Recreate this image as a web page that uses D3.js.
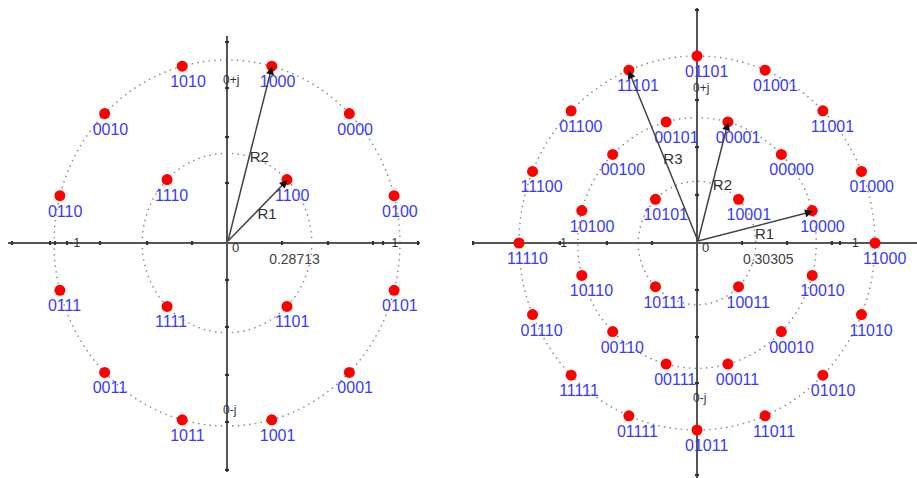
<!DOCTYPE html>
<html>
<head>
<meta charset="utf-8">
<script src="https://cdn.jsdelivr.net/npm/d3@7"></script>
<style>
html,body{margin:0;padding:0;background:#fff;}
svg{display:block;font-family:"Liberation Sans",Arial,sans-serif;}
</style>
</head>
<body>
<svg id="chart" width="917" height="478"></svg>
<script>
// ---------- 16APSK (left) ----------
const apsk16Labels = ["0100","0000","1000","1010","0010","0110","0111","0011","1011","1001","0001","0101",
                      "1100","1110","1111","1101"];
const apsk16Angles = [15,45,75,105,135,165,195,225,255,285,315,345, 45,135,225,315];
const apsk16Radius = [1,1,1,1,1,1,1,1,1,1,1,1, 0.49,0.49,0.49,0.49];
const apsk16Rings = [0.49, 1];
const apsk16Vectors = ["R1","R2"];
const apsk16VecRadius = [0.49, 1];
const apsk16VecAngle = [45, 75];
const apsk16Ratio = "0.28713";
const apsk16XTicks = [-1.243,-1.023,-0.994,-0.925,-0.734,-0.462,-0.202,0.318,0.584,0.844,0.902,1.104];
const apsk16YTicks = [1.098,0.847,0.579,0.328,-0.202,-0.459,-0.721,-0.978,-1.240];

// ---------- 32APSK (right) ----------
const apsk32Labels = ["11000","01000","11001","01001","01101","11101","01100","11100",
                      "11110","01110","11111","01111","01011","11011","01010","11010",
                      "10000","00000","00001","00101","00100","10100","10110","00110",
                      "00111","00011","00010","10010",
                      "10001","10101","10111","10011"];
const apsk32Angles = [0,22.5,45,67.5,90,112.5,135,157.5,180,202.5,225,247.5,270,292.5,315,337.5,
                      15,45,75,105,135,165,195,225,255,285,315,345,
                      45,135,225,315];
const apsk32Radius = [1,1,1,1,1,1,1,1,1,1,1,1,1,1,1,1,
                      0.67,0.67,0.67,0.67,0.67,0.67,0.67,0.67,0.67,0.67,0.67,0.67,
                      0.33,0.33,0.33,0.33];
const apsk32Rings = [0.33, 0.67, 1];
const apsk32Vectors = ["R1","R2","R3"];
const apsk32VecRadius = [0.67, 0.67, 1];
const apsk32VecAngle = [15, 75, 112.5];
const apsk32Ratio = "0.30305";
const apsk32XTicks = [-1.258,-0.770,-0.506,-0.253,0.253,0.506,0.758,0.803];
const apsk32YTicks = [1.246,1.021,0.765,0.513,0.257,-0.251,-0.503,-0.749,-1.0,-1.241];

const svg = d3.select("#chart");
const defs = svg.append("defs");
defs.append("marker").attr("id","arr").attr("viewBox","0 0 10 10")
  .attr("refX",9).attr("refY",5).attr("markerWidth",11).attr("markerHeight",8)
  .attr("markerUnits","userSpaceOnUse").attr("orient","auto")
  .append("path").attr("d","M0,0 L10,5 L0,10 Z").attr("fill","#111");

function drawPanel(cfg){
  const x = d3.scaleLinear().domain([-1,1]).range([cfg.cx - cfg.kx, cfg.cx + cfg.kx]);
  const y = d3.scaleLinear().domain([-1,1]).range([cfg.cy + cfg.ky, cfg.cy - cfg.ky]);
  const g = svg.append("g");
  const rad = a => a*Math.PI/180;

  // rings
  g.selectAll("ellipse.ring").data(cfg.rings).join("ellipse")
    .attr("cx", x(0)).attr("cy", y(0))
    .attr("rx", d => x(d) - x(0)).attr("ry", d => y(0) - y(d))
    .attr("fill","none").attr("stroke","#8a8a8a").attr("stroke-width",1.6)
    .attr("stroke-linecap","round").attr("stroke-dasharray","0.1 5.6");

  // axes
  g.append("line").attr("x1", x(cfg.xExt[0])).attr("x2", x(cfg.xExt[1]))
    .attr("y1", y(0)).attr("y2", y(0)).attr("stroke","#555").attr("stroke-width",2);
  g.append("line").attr("x1", x(0)).attr("x2", x(0))
    .attr("y1", y(cfg.yExt[0])).attr("y2", y(cfg.yExt[1])).attr("stroke","#555").attr("stroke-width",2);
  g.selectAll("line.xt").data(cfg.xTicks).join("line")
    .attr("x1", d => x(d)).attr("x2", d => x(d))
    .attr("y1", y(0)-2).attr("y2", y(0)+2).attr("stroke","#333").attr("stroke-width",2.2);
  g.selectAll("line.yt").data(cfg.yTicks).join("line")
    .attr("y1", d => y(d)).attr("y2", d => y(d))
    .attr("x1", x(0)-2).attr("x2", x(0)+2).attr("stroke","#333").attr("stroke-width",2.2);

  // axis texts
  const small = (t, px, py, anchor, size) => g.append("text").text(t)
    .attr("x", px).attr("y", py).attr("text-anchor", anchor||"start")
    .attr("dominant-baseline","central").attr("font-size", size||12).attr("fill","#333");
  small("0", x(0)+5, y(0)+4, "start", 13);
  small("1", x(cfg.oneX), y(0), "middle", 12);
  small("-1", x(cfg.minusOneX), y(0), "middle", 12);
  small("0+j", x(0)-4, y(cfg.plusJ), "start", 12);
  small("0-j", x(0)-4, y(cfg.minusJ), "start", 12);
  small(cfg.ratio, x(cfg.ratioX), y(0)+16, "middle", 14).attr("fill","#444");

  // points
  const pts = cfg.labels.map((l,i) => ({
    label: l,
    px: x(cfg.radius[i]*Math.cos(rad(cfg.angles[i]))),
    py: y(cfg.radius[i]*Math.sin(rad(cfg.angles[i])))
  }));
  g.selectAll("circle.pt").data(pts).join("circle")
    .attr("cx", d => d.px).attr("cy", d => d.py).attr("r", 5.5).attr("fill","#ff0000");
  g.selectAll("text.lab").data(pts).join("text")
    .attr("x", d => d.px - 12).attr("y", d => d.py + 21)
    .attr("font-size", 16).attr("fill","#3a3aff").text(d => d.label);

  // vectors
  const vecs = cfg.vectors.map((n,i) => ({
    name: n, i: i,
    ex: x(cfg.vecR[i]*Math.cos(rad(cfg.vecA[i]))),
    ey: y(cfg.vecR[i]*Math.sin(rad(cfg.vecA[i])))
  }));
  g.selectAll("line.vec").data(vecs).join("line")
    .attr("x1", x(0)+1).attr("y1", y(0)-2).attr("x2", d => d.ex).attr("y2", d => d.ey+1)
    .attr("stroke","#444").attr("stroke-width",1.5).attr("marker-end","url(#arr)");
  g.selectAll("text.vl").data(vecs).join("text")
    .attr("x", d => (x(0)+d.ex)/2 + 10)
    .attr("y", d => (y(0)+d.ey)/2 + (d.i === 0 ? cfg.r1dy : 2))
    .attr("text-anchor","middle").attr("dominant-baseline","central")
    .attr("font-size", 15).attr("fill","#333").text(d => d.name);
}

drawPanel({cx:227, cy:243, kx:173, ky:183,
  rings: apsk16Rings, labels: apsk16Labels, angles: apsk16Angles, radius: apsk16Radius,
  vectors: apsk16Vectors, vecR: apsk16VecRadius, vecA: apsk16VecAngle,
  xTicks: apsk16XTicks, yTicks: apsk16YTicks, xExt:[-1.266,1.115], yExt:[1.131,-1.251],
  oneX: 0.97, minusOneX: -0.88, plusJ: 0.89, minusJ: -0.91, ratio: apsk16Ratio, ratioX: 0.39, r1dy: 2});

drawPanel({cx:697, cy:243, kx:178, ky:187,
  rings: apsk32Rings, labels: apsk32Labels, angles: apsk32Angles, radius: apsk32Radius,
  vectors: apsk32Vectors, vecR: apsk32VecRadius, vecA: apsk32VecAngle,
  xTicks: apsk32XTicks, yTicks: apsk32YTicks, xExt:[-1.258,1.236], yExt:[1.257,-1.257],
  oneX: 0.89, minusOneX: -0.76, plusJ: 0.83, minusJ: -0.83, ratio: apsk32Ratio, ratioX: 0.40, r1dy: 7});
</script>
</body>
</html>
